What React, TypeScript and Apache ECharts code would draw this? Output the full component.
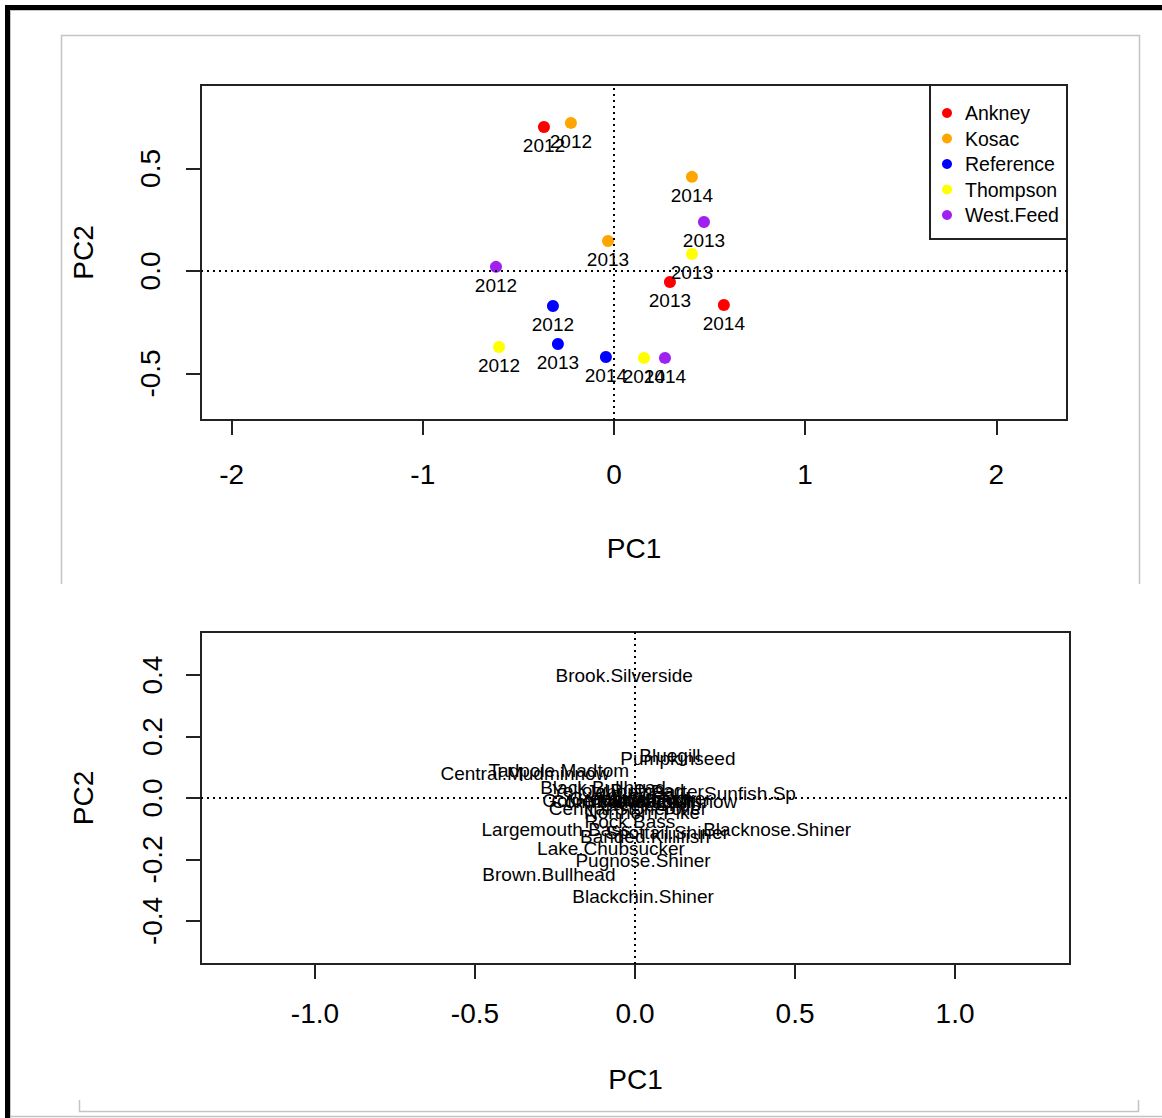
import React, { useEffect, useRef } from 'react';
import * as echarts from 'echarts';

const FONT = '"Liberation Sans", Arial, sans-serif';

// ---- Top panel: site scores ----
const SITES = ['Ankney', 'Kosac', 'Reference', 'Thompson', 'West.Feed'];
const SITE_COLORS = ['#FF0000', '#FFA500', '#0000FF', '#FFFF00', '#A020F0'];
const YEARS = ['2012', '2013', '2014'];
const ANKNEY_PC1 = [-0.366, 0.293, 0.575];
const ANKNEY_PC2 = [0.702, -0.054, -0.166];
const KOSAC_PC1 = [-0.225, -0.031, 0.408];
const KOSAC_PC2 = [0.722, 0.146, 0.459];
const REFERENCE_PC1 = [-0.319, -0.293, -0.042];
const REFERENCE_PC2 = [-0.171, -0.356, -0.42];
const THOMPSON_PC1 = [-0.601, 0.408, 0.157];
const THOMPSON_PC2 = [-0.371, 0.083, -0.424];
const WESTFEED_PC1 = [-0.617, 0.471, 0.267];
const WESTFEED_PC2 = [0.02, 0.239, -0.424];
const SITE_PC1 = [ANKNEY_PC1, KOSAC_PC1, REFERENCE_PC1, THOMPSON_PC1, WESTFEED_PC1];
const SITE_PC2 = [ANKNEY_PC2, KOSAC_PC2, REFERENCE_PC2, THOMPSON_PC2, WESTFEED_PC2];

const TOP_X_TICKS = [-2, -1, 0, 1, 2];
const TOP_Y_TICKS = [-0.5, 0, 0.5];

// ---- Bottom panel: species loadings ----
const SPECIES = [
  'Brook.Silverside', 'Bluegill', 'Pumpkinseed', 'Tadpole.Madtom', 'Central.Mudminnow',
  'Black.Bullhead', 'Yellow.Bullhead', 'Johnny.Darter', 'Sunfish.Sp', 'Golden.Shiner',
  'Fathead.Minnow', 'Green.Sunfish', 'Yellow.Perch', 'Common.Shiner', 'White.Sucker',
  'Creek.Chub', 'Central.Stoneroller', 'Northern.Pike', 'Rock.Bass', 'Largemouth.Bass',
  'Spottail.Shiner', 'Banded.Killifish', 'Blacknose.Shiner', 'Lake.Chubsucker',
  'Pugnose.Shiner', 'Brown.Bullhead', 'Blackchin.Shiner',
];
const SPECIES_PC1 = [
  -0.034, 0.109, 0.134, -0.238, -0.344,
  -0.1, -0.053, 0.031, 0.359, -0.1,
  0.1, -0.016, 0.016, -0.047, 0.063,
  0.047, -0.022, 0.022, -0.016, -0.247,
  0.1, 0.031, 0.444, -0.075,
  0.025, -0.269, 0.025,
];
const SPECIES_PC2 = [
  0.4, 0.137, 0.127, 0.091, 0.081,
  0.033, 0.026, 0.02, 0.016, -0.007,
  -0.01, 0.0, -0.007, -0.013, -0.003,
  -0.02, -0.033, -0.046, -0.078, -0.101,
  -0.111, -0.124, -0.104, -0.163,
  -0.202, -0.25, -0.322,
];
const BOTTOM_X_TICKS = [-1, -0.5, 0, 0.5, 1];
const BOTTOM_Y_TICKS = [-0.4, -0.2, 0, 0.2, 0.4];

const AXIS_TEXT = { fontSize: 28, color: '#000', fontFamily: FONT };

function makeXAxis(gridIndex: number, min: number, max: number, ticks: number[], fmt: (v: number) => string, margin: number, nameGap: number) {
  return {
    gridIndex, type: 'value', min, max,
    axisLine: { show: false, onZero: false },
    axisTick: { show: true, customValues: ticks, length: 15, lineStyle: { color: '#222', width: 2 } },
    axisLabel: { customValues: ticks, formatter: fmt, margin, ...AXIS_TEXT },
    splitLine: { show: false },
    name: 'PC1', nameLocation: 'middle', nameGap, nameTextStyle: { ...AXIS_TEXT },
  };
}
function makeYAxis(gridIndex: number, min: number, max: number, ticks: number[], margin: number, nameGap: number) {
  return {
    gridIndex, type: 'value', min, max,
    axisLine: { show: false, onZero: false },
    axisTick: { show: true, customValues: ticks, length: 15, lineStyle: { color: '#222', width: 2 } },
    axisLabel: { customValues: ticks, formatter: (v: number) => v.toFixed(1), margin, rotate: 90, ...AXIS_TEXT },
    splitLine: { show: false },
    name: 'PC2', nameLocation: 'middle', nameGap, nameTextStyle: { ...AXIS_TEXT },
  };
}

const ZERO_LINES = {
  silent: true,
  symbol: ['none', 'none'],
  label: { show: false },
  lineStyle: { color: '#000', type: [2, 4], width: 2, opacity: 1 },
  emphasis: { disabled: true },
  data: [{ xAxis: 0 }, { yAxis: 0 }],
};

export default function App() {
  const ref = useRef<HTMLDivElement>(null);
  useEffect(() => {
    if (!ref.current) return;
    const chart = echarts.init(ref.current, undefined, { renderer: 'svg' });
    const siteSeries = SITES.map((site, i) => ({
      type: 'scatter',
      name: site,
      xAxisIndex: 0,
      yAxisIndex: 0,
      symbol: 'circle',
      symbolSize: 12,
      itemStyle: { color: SITE_COLORS[i], opacity: 1 },
      emphasis: { disabled: true },
      data: YEARS.map((yr, j) => ({ name: yr, value: [SITE_PC1[i][j], SITE_PC2[i][j]] })),
      label: { show: true, position: 'bottom', distance: 3, formatter: '{b}', fontSize: 19, color: '#000', fontFamily: FONT },
      ...(i === 0 ? { markLine: ZERO_LINES } : {}),
    }));
    const speciesSeries = {
      type: 'scatter',
      name: 'species',
      xAxisIndex: 1,
      yAxisIndex: 1,
      symbol: 'circle',
      symbolSize: 1,
      itemStyle: { color: 'rgba(0,0,0,0)' },
      emphasis: { disabled: true },
      data: SPECIES.map((n, i) => ({ name: n, value: [SPECIES_PC1[i], SPECIES_PC2[i]] })),
      label: {
        show: true, position: 'inside', formatter: '{b}', fontSize: 19, color: '#000', fontFamily: FONT,
        textBorderWidth: 0, textBorderColor: 'transparent', opacity: 1,
      },
      markLine: ZERO_LINES,
    };
    const grey = '#c4c4c4';
    chart.setOption({
      animation: false,
      backgroundColor: '#fff',
      grid: [
        { left: 201, top: 85, width: 866, height: 335, show: true, borderColor: '#222', borderWidth: 2, backgroundColor: 'transparent' },
        { left: 201, top: 632, width: 869, height: 332, show: true, borderColor: '#222', borderWidth: 2, backgroundColor: 'transparent' },
      ],
      xAxis: [
        makeXAxis(0, -2.16, 2.37, TOP_X_TICKS, (v: number) => String(v), 40, 114),
        makeXAxis(1, -1.356, 1.359, BOTTOM_X_TICKS, (v: number) => v.toFixed(1), 35, 101),
      ],
      yAxis: [
        makeYAxis(0, -0.727, 0.907, TOP_Y_TICKS, 37, 104),
        makeYAxis(1, -0.54, 0.54, BOTTOM_Y_TICKS, 35, 104),
      ],
      legend: {
        data: SITES,
        orient: 'vertical',
        left: 942,
        top: 103,
        padding: 0,
        icon: 'circle',
        itemWidth: 10,
        itemHeight: 10,
        itemGap: 5.5,
        selectedMode: false,
        itemStyle: { opacity: 1 },
        textStyle: { fontSize: 19.5, color: '#000', fontFamily: FONT, padding: [0, 0, 0, 8] },
      },
      graphic: [
        { type: 'rect', shape: { x: 930, y: 85, width: 137, height: 154 }, style: { fill: 'none', stroke: '#222', lineWidth: 2 }, silent: true },
        { type: 'rect', shape: { x: 5, y: 5, width: 1157, height: 5 }, style: { fill: '#000' }, silent: true },
        { type: 'rect', shape: { x: 5, y: 5, width: 5, height: 1113 }, style: { fill: '#000' }, silent: true },
        { type: 'line', shape: { x1: 10, y1: 10.5, x2: 1162, y2: 10.5 }, style: { stroke: grey, lineWidth: 1 }, silent: true },
        { type: 'line', shape: { x1: 10.5, y1: 10, x2: 10.5, y2: 1118 }, style: { stroke: grey, lineWidth: 1 }, silent: true },
        { type: 'line', shape: { x1: 10, y1: 1116.5, x2: 1162, y2: 1116.5 }, style: { stroke: grey, lineWidth: 1.5 }, silent: true },
        { type: 'polyline', shape: { points: [[61.5, 584], [61.5, 35.5], [1139.5, 35.5], [1139.5, 584]] }, style: { fill: 'none', stroke: grey, lineWidth: 1.5 }, silent: true },
        { type: 'polyline', shape: { points: [[79.5, 1100], [79.5, 1111.5], [1138.5, 1111.5], [1138.5, 1100]] }, style: { fill: 'none', stroke: grey, lineWidth: 1.5 }, silent: true },
      ],
      series: [...siteSeries, speciesSeries],
    });
    return () => chart.dispose();
  }, []);
  return (
    <div
      ref={ref}
      style={{ position: 'absolute', left: 0, top: 0, width: 1162, height: 1118, background: '#fff' }}
    />
  );
}
